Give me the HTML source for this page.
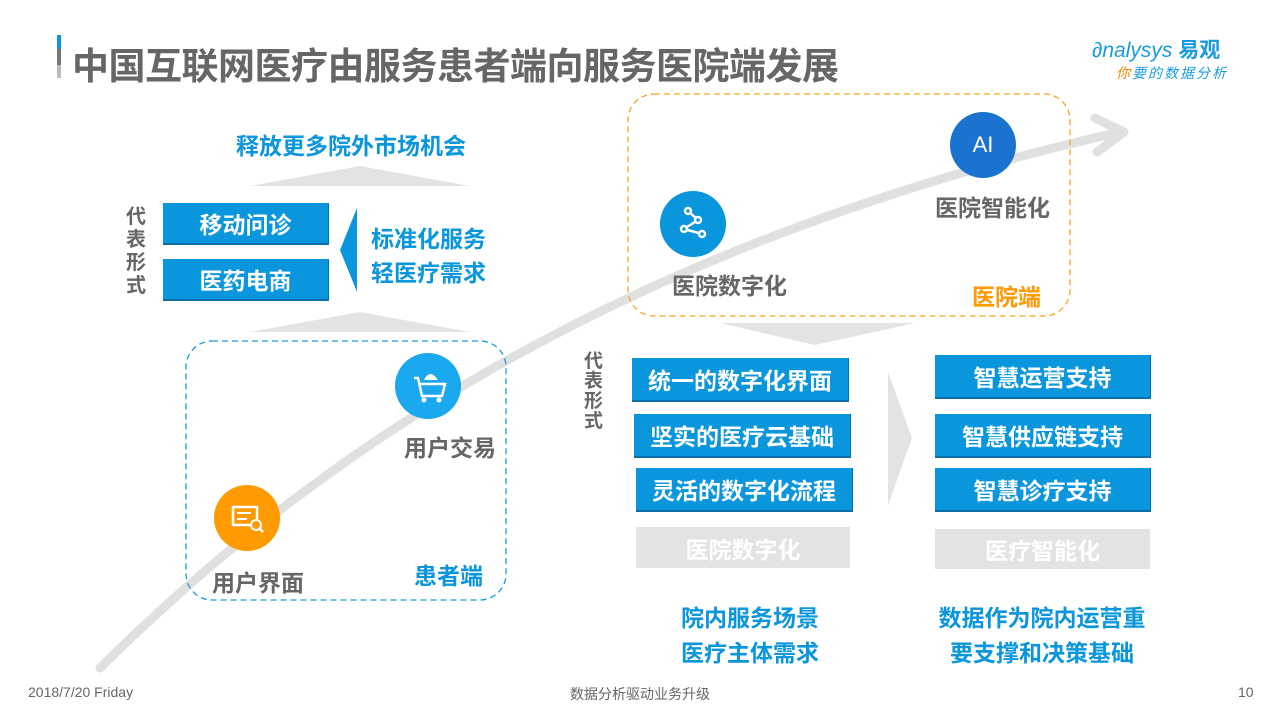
<!DOCTYPE html>
<html><head><meta charset="utf-8"><style>
body{margin:0;width:1280px;height:720px;background:#fff;position:relative;overflow:hidden;font-family:"Liberation Sans","Noto Sans CJK SC",sans-serif;}
.a{position:absolute;white-space:nowrap;font-weight:bold;}
.bx{position:absolute;background:#0a96dc;color:#fff;font-weight:bold;font-size:23px;display:flex;align-items:center;justify-content:center;border-bottom:2px solid #0a6fa8;border-right:1px solid #0a6fa8;}
.gx{position:absolute;background:#e3e3e3;color:#fff;font-weight:bold;font-size:23px;display:flex;align-items:center;justify-content:center;}
.c{position:absolute;border-radius:50%;display:flex;align-items:center;justify-content:center;color:#fff;}
.g{color:#666;font-size:23px}
.b{color:#0a96dc;font-size:23px}
</style></head><body>
<svg width="1280" height="720" style="position:absolute;left:0;top:0">
<path d="M100,668 C 300,470 600,250 1120,132" fill="none" stroke="#e0e0e0" stroke-width="9" stroke-linecap="round"/>
<path d="M1095,118 L1124,132 L1097,152" fill="none" stroke="#e0e0e0" stroke-width="9" stroke-linecap="round" stroke-linejoin="round"/>
<polygon points="250,186 360,166 470,186" fill="#e3e3e3"/>
<polygon points="250,332 360,312 470,332" fill="#e3e3e3"/>
<polygon points="357,208 340,250 357,292" fill="#0a96dc"/>
<polygon points="720,323 915,323 815,345" fill="#e3e3e3"/>
<polygon points="888,372 912,438 888,505" fill="#e3e3e3"/>
<rect x="186" y="341" width="320" height="259" rx="26" fill="none" stroke="#1a9be0" stroke-width="1.3" stroke-dasharray="6,4"/>
<rect x="628" y="94" width="442" height="222" rx="26" fill="none" stroke="#f5a623" stroke-width="1.3" stroke-dasharray="6,4"/>
<circle cx="428" cy="386" r="33" fill="#1aa8ef"/>
<g fill="none" stroke="#fff" stroke-width="2.5"><path d="M414,378 L418,378 L422,396 L442,396 L445,384 L420,384"/></g>
<circle cx="424" cy="400" r="2.5" fill="#fff"/><circle cx="439" cy="400" r="2.5" fill="#fff"/>
<path d="M424,380 Q430,368 438,380 Z" fill="#fff"/>
<circle cx="247" cy="518" r="33" fill="#ff9a00"/>
<rect x="233" y="507" width="24" height="18" fill="none" stroke="#fff" stroke-width="2.5"/>
<path d="M237,513 h14 M237,519 h10" stroke="#fff" stroke-width="2"/>
<circle cx="256" cy="525" r="5" fill="#ff9a00" stroke="#fff" stroke-width="2"/><path d="M259,528 L263,532" stroke="#fff" stroke-width="2.5"/>
<circle cx="693" cy="224" r="33" fill="#0a96dc"/>
<g fill="none" stroke="#fff" stroke-width="2.5"><path d="M688,211 L698,220 L684,229 L702,234"/><circle cx="688" cy="211" r="3" fill="#0a96dc"/><circle cx="698" cy="220" r="3" fill="#0a96dc"/><circle cx="684" cy="229" r="3" fill="#0a96dc"/><circle cx="702" cy="234" r="3" fill="#0a96dc"/></g>
<circle cx="983" cy="145" r="33" fill="#1a73cf"/>
</svg>
<div style="position:absolute;left:57px;top:35px;width:4px;height:14px;background:#0a96dc"></div>
<div style="position:absolute;left:57px;top:49px;width:4px;height:16px;background:#777"></div>
<div style="position:absolute;left:57px;top:65px;width:4px;height:13px;background:#bbb"></div>
<div class="a" style="left:72px;top:36px;font-size:37px;color:#666;letter-spacing:-0.5px">中国互联网医疗由服务患者端向服务医院端发展</div>
<div class="a" style="left:1092px;top:34px;font-size:21px;color:#1a9be0;font-style:italic;font-weight:normal">∂nalysys <b style="font-style:normal">易观</b></div>
<div class="a" style="left:1116px;top:63px;font-size:14px;color:#1a9be0;font-style:italic;font-weight:normal;letter-spacing:2px"><span style="color:#f08a00">你</span>要的数据分析</div>

<div class="a b" style="left:236px;top:127px">释放更多院外市场机会</div>
<div class="a g" style="left:126px;top:206px;font-size:20px;width:22px;line-height:23px;white-space:normal">代表形式</div>
<div class="bx" style="left:163px;top:203px;width:165px;height:40px">移动问诊</div>
<div class="bx" style="left:163px;top:259px;width:165px;height:40px">医药电商</div>
<div class="a b" style="left:371px;top:220px">标准化服务</div>
<div class="a b" style="left:371px;top:254px">轻医疗需求</div>

<div class="a g" style="left:404px;top:429px">用户交易</div>
<div class="a g" style="left:212px;top:564px">用户界面</div>
<div class="a b" style="left:414px;top:557px">患者端</div>

<div class="c" style="left:950px;top:112px;width:66px;height:66px;font-size:22px">AI</div>
<div class="a g" style="left:672px;top:267px">医院数字化</div>
<div class="a g" style="left:935px;top:189px">医院智能化</div>
<div class="a" style="left:972px;top:278px;font-size:23px;color:#ff9a00">医院端</div>

<div class="a g" style="left:584px;top:352px;font-size:19px;width:20px;line-height:20px;white-space:normal">代表形式</div>
<div class="bx" style="left:632px;top:358px;width:216px;height:42px">统一的数字化界面</div>
<div class="bx" style="left:634px;top:414px;width:216px;height:42px">坚实的医疗云基础</div>
<div class="bx" style="left:636px;top:468px;width:216px;height:42px">灵活的数字化流程</div>
<div class="gx" style="left:636px;top:527px;width:214px;height:41px">医院数字化</div>
<div class="bx" style="left:935px;top:355px;width:215px;height:42px">智慧运营支持</div>
<div class="bx" style="left:935px;top:414px;width:215px;height:42px">智慧供应链支持</div>
<div class="bx" style="left:935px;top:468px;width:215px;height:42px">智慧诊疗支持</div>
<div class="gx" style="left:935px;top:529px;width:215px;height:40px">医疗智能化</div>

<div class="a b" style="left:650px;top:599px;width:200px;text-align:center">院内服务场景</div>
<div class="a b" style="left:650px;top:634px;width:200px;text-align:center">医疗主体需求</div>
<div class="a b" style="left:912px;top:599px;width:260px;text-align:center">数据作为院内运营重</div>
<div class="a b" style="left:912px;top:634px;width:260px;text-align:center">要支撑和决策基础</div>

<div class="a" style="left:28px;top:684px;font-size:14px;color:#666;font-weight:normal">2018/7/20 Friday</div>
<div class="a" style="left:540px;top:684px;width:200px;text-align:center;font-size:14px;color:#666;font-weight:normal">数据分析驱动业务升级</div>
<div class="a" style="left:1238px;top:684px;font-size:14px;color:#666;font-weight:normal">10</div>
</body></html>
